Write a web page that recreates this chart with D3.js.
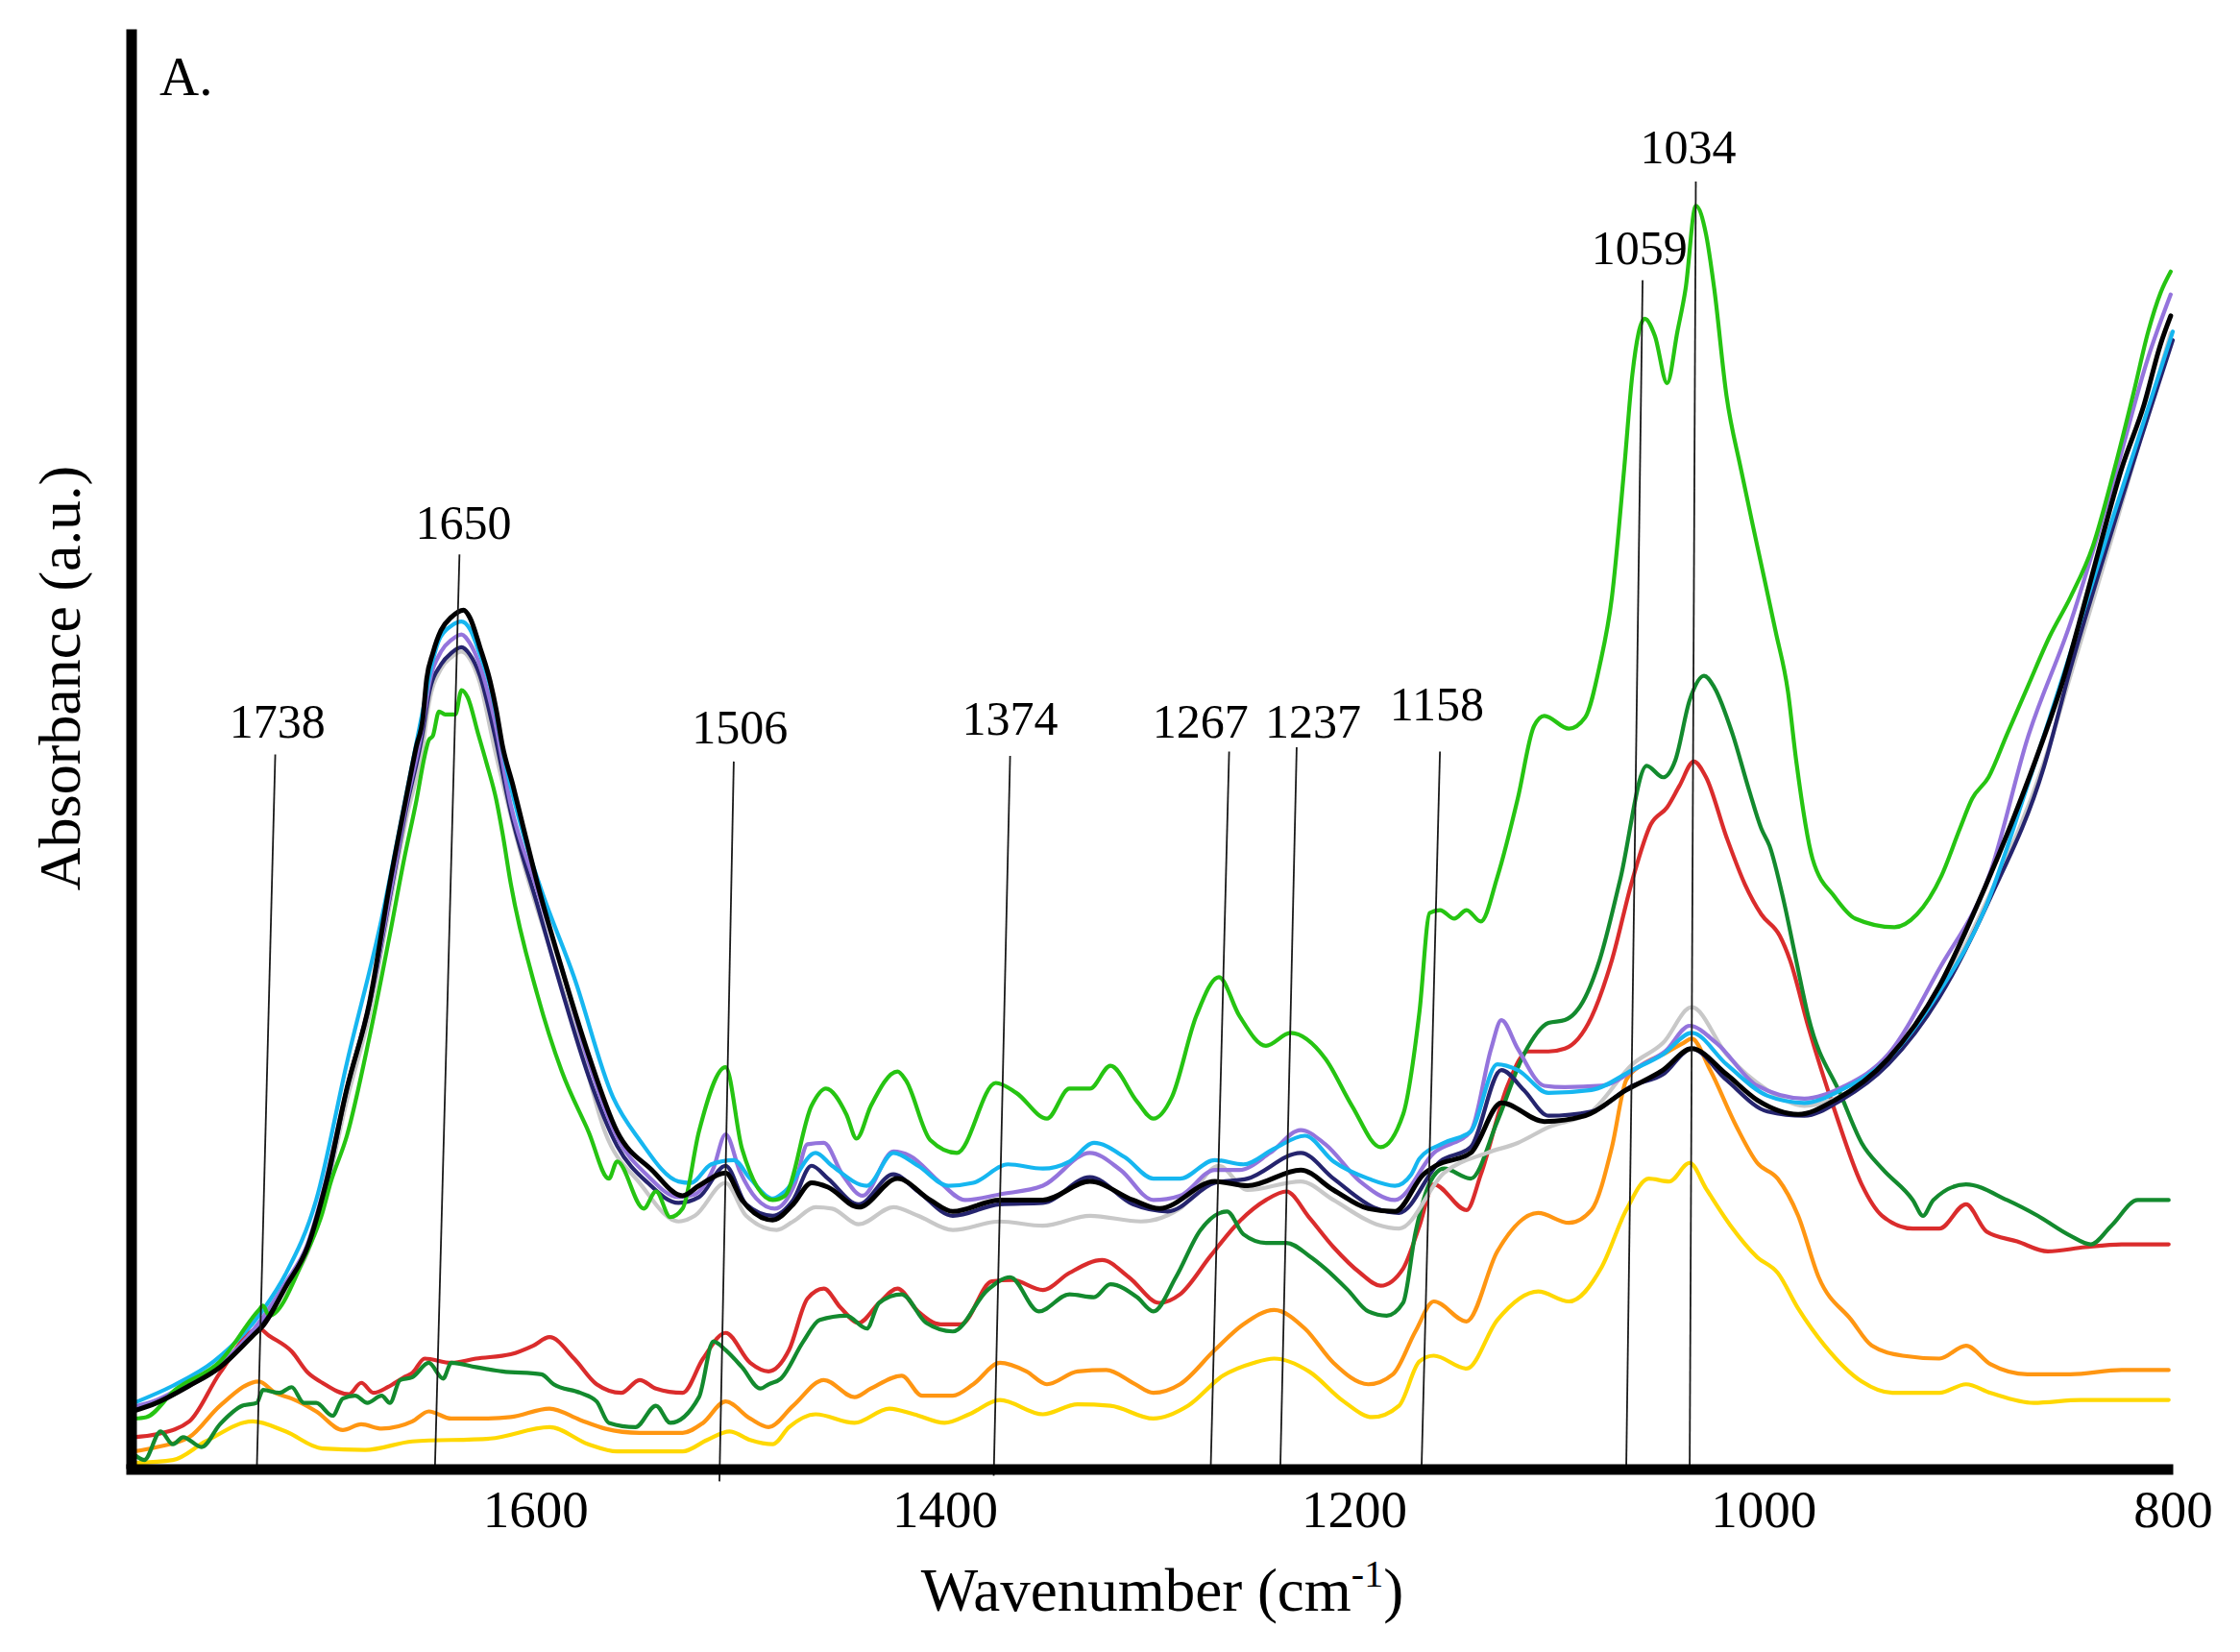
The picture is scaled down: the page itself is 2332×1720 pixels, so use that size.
<!DOCTYPE html>
<html>
<head>
<meta charset="utf-8">
<script src="https://cdn.jsdelivr.net/npm/d3@7"></script>
<style>
  body { margin: 0; background: #fff; }
  svg { display: block; }
  text { font-family: "Liberation Serif", "Times New Roman", serif; fill: #000; }
</style>
</head>
<body>
<div id="chart"></div>
<script>
'use strict';

// Spectra: [wavenumber (cm-1), absorbance (a.u.)]
var yellowSpectrum = [[1796,0.004],[1777,0.006],[1761,0.019],[1738,0.033],[1722,0.026],[1704,0.014],[1683,0.013],[1660,0.019],[1622,0.021],[1593,0.029],[1574,0.017],[1560,0.012],[1528,0.012],[1516,0.020],[1505,0.026],[1495,0.020],[1484,0.017],[1476,0.029],[1463,0.038],[1444,0.032],[1427,0.042],[1415,0.038],[1400,0.032],[1388,0.038],[1373,0.048],[1352,0.038],[1335,0.045],[1319,0.044],[1298,0.035],[1281,0.044],[1264,0.065],[1249,0.074],[1239,0.077],[1222,0.068],[1205,0.047],[1191,0.036],[1178,0.044],[1168,0.075],[1161,0.079],[1145,0.070],[1130,0.104],[1110,0.124],[1095,0.117],[1079,0.141],[1067,0.181],[1056,0.203],[1046,0.201],[1036,0.214],[1028,0.196],[1016,0.170],[1003,0.148],[993,0.137],[983,0.112],[970,0.086],[952,0.061],[937,0.053],[914,0.053],[901,0.059],[889,0.053],[868,0.046],[845,0.048],[802,0.048]];

var orangeSpectrum = [[1796,0.012],[1785,0.015],[1769,0.022],[1754,0.044],[1735,0.061],[1727,0.053],[1719,0.049],[1707,0.040],[1694,0.027],[1685,0.031],[1675,0.028],[1660,0.033],[1652,0.040],[1641,0.035],[1627,0.035],[1612,0.036],[1593,0.042],[1578,0.034],[1566,0.028],[1549,0.025],[1528,0.025],[1518,0.032],[1507,0.047],[1495,0.035],[1486,0.029],[1474,0.044],[1459,0.062],[1444,0.050],[1436,0.056],[1421,0.065],[1411,0.051],[1396,0.051],[1386,0.059],[1373,0.074],[1360,0.068],[1350,0.059],[1335,0.068],[1321,0.069],[1308,0.060],[1298,0.053],[1285,0.059],[1268,0.083],[1254,0.101],[1239,0.111],[1224,0.098],[1210,0.074],[1193,0.059],[1181,0.066],[1170,0.096],[1161,0.117],[1145,0.103],[1130,0.152],[1110,0.179],[1095,0.172],[1084,0.181],[1074,0.225],[1067,0.272],[1059,0.283],[1049,0.290],[1039,0.298],[1035,0.301],[1026,0.279],[1013,0.239],[1003,0.214],[993,0.203],[983,0.177],[973,0.134],[957,0.104],[947,0.086],[932,0.079],[914,0.077],[901,0.086],[889,0.073],[871,0.066],[850,0.066],[825,0.069],[802,0.069]];

var redSpectrum = [[1796,0.022],[1785,0.024],[1769,0.033],[1754,0.067],[1735,0.098],[1730,0.093],[1719,0.082],[1711,0.067],[1704,0.060],[1691,0.052],[1685,0.060],[1679,0.053],[1672,0.057],[1664,0.064],[1660,0.067],[1654,0.077],[1641,0.074],[1629,0.077],[1612,0.080],[1601,0.086],[1593,0.092],[1581,0.077],[1570,0.059],[1558,0.053],[1549,0.062],[1541,0.056],[1528,0.053],[1518,0.077],[1507,0.095],[1495,0.074],[1486,0.068],[1476,0.083],[1467,0.119],[1459,0.126],[1451,0.113],[1442,0.102],[1432,0.116],[1423,0.126],[1413,0.110],[1402,0.101],[1392,0.101],[1377,0.131],[1367,0.132],[1352,0.125],[1339,0.137],[1323,0.146],[1310,0.134],[1295,0.116],[1285,0.122],[1270,0.149],[1256,0.173],[1243,0.188],[1233,0.194],[1222,0.176],[1210,0.155],[1197,0.137],[1187,0.128],[1176,0.140],[1168,0.170],[1161,0.199],[1145,0.181],[1138,0.206],[1125,0.268],[1115,0.292],[1105,0.292],[1097,0.294],[1084,0.316],[1074,0.356],[1064,0.412],[1055,0.451],[1047,0.463],[1041,0.478],[1034,0.495],[1028,0.484],[1018,0.442],[1009,0.409],[1001,0.388],[992,0.373],[987,0.356],[978,0.309],[965,0.250],[952,0.199],[942,0.177],[927,0.168],[914,0.168],[901,0.185],[891,0.166],[876,0.159],[861,0.152],[843,0.155],[825,0.157],[802,0.157]];

var darkGreenSpectrum = [[1796,0.010],[1791,0.006],[1783,0.026],[1777,0.017],[1772,0.022],[1763,0.015],[1754,0.031],[1743,0.044],[1736,0.046],[1733,0.055],[1725,0.053],[1719,0.057],[1713,0.046],[1707,0.046],[1699,0.037],[1694,0.049],[1688,0.051],[1682,0.046],[1675,0.051],[1671,0.046],[1666,0.062],[1660,0.064],[1652,0.074],[1645,0.063],[1641,0.074],[1629,0.071],[1616,0.068],[1597,0.066],[1591,0.059],[1578,0.053],[1570,0.047],[1564,0.032],[1551,0.029],[1541,0.044],[1534,0.032],[1520,0.050],[1513,0.089],[1507,0.083],[1499,0.071],[1490,0.056],[1486,0.059],[1480,0.063],[1469,0.089],[1461,0.104],[1448,0.107],[1438,0.098],[1432,0.116],[1421,0.122],[1409,0.102],[1396,0.096],[1379,0.125],[1368,0.134],[1354,0.110],[1339,0.122],[1327,0.120],[1319,0.129],[1306,0.120],[1298,0.110],[1287,0.134],[1275,0.167],[1262,0.180],[1254,0.164],[1243,0.158],[1233,0.158],[1222,0.149],[1214,0.140],[1203,0.125],[1193,0.110],[1184,0.107],[1176,0.116],[1170,0.165],[1163,0.200],[1156,0.210],[1143,0.203],[1130,0.243],[1117,0.290],[1105,0.312],[1097,0.314],[1087,0.330],[1080,0.356],[1070,0.412],[1057,0.492],[1049,0.484],[1043,0.496],[1036,0.538],[1029,0.555],[1024,0.547],[1015,0.514],[1007,0.475],[1001,0.448],[997,0.436],[990,0.397],[984,0.356],[978,0.316],[962,0.261],[952,0.228],[942,0.210],[927,0.188],[922,0.177],[917,0.188],[901,0.199],[881,0.188],[866,0.177],[850,0.163],[840,0.157],[830,0.170],[817,0.188],[802,0.188]];

var graySpectrum = [[1797,0.041],[1785,0.046],[1769,0.058],[1754,0.071],[1738,0.093],[1722,0.125],[1711,0.152],[1702,0.195],[1692,0.258],[1681,0.318],[1671,0.395],[1663,0.455],[1655,0.505],[1652,0.535],[1646,0.560],[1641,0.568],[1636,0.572],[1632,0.567],[1627,0.550],[1620,0.505],[1606,0.425],[1591,0.356],[1578,0.296],[1566,0.236],[1549,0.200],[1530,0.173],[1522,0.177],[1507,0.200],[1497,0.177],[1482,0.167],[1474,0.173],[1463,0.183],[1455,0.182],[1442,0.171],[1425,0.183],[1413,0.177],[1396,0.167],[1373,0.173],[1352,0.170],[1329,0.177],[1304,0.173],[1285,0.182],[1266,0.212],[1252,0.195],[1226,0.201],[1210,0.188],[1189,0.171],[1178,0.168],[1156,0.207],[1135,0.221],[1120,0.228],[1105,0.239],[1084,0.250],[1064,0.283],[1049,0.298],[1035,0.323],[1018,0.290],[998,0.265],[980,0.254],[962,0.261],[939,0.287],[914,0.334],[889,0.403],[863,0.494],[850,0.555],[829,0.655],[801,0.795]];

var navySpectrum = [[1797,0.041],[1785,0.046],[1769,0.058],[1754,0.071],[1738,0.094],[1722,0.128],[1711,0.155],[1702,0.198],[1692,0.266],[1681,0.325],[1671,0.400],[1663,0.462],[1655,0.515],[1652,0.542],[1646,0.563],[1641,0.571],[1636,0.575],[1632,0.570],[1627,0.555],[1620,0.515],[1612,0.460],[1599,0.395],[1587,0.335],[1574,0.275],[1560,0.226],[1545,0.200],[1530,0.186],[1520,0.190],[1507,0.212],[1497,0.185],[1484,0.177],[1474,0.188],[1465,0.212],[1457,0.203],[1442,0.185],[1425,0.206],[1413,0.194],[1396,0.177],[1373,0.185],[1352,0.186],[1329,0.204],[1308,0.185],[1291,0.180],[1268,0.200],[1252,0.203],[1226,0.221],[1210,0.203],[1189,0.182],[1178,0.179],[1158,0.215],[1143,0.225],[1128,0.279],[1117,0.265],[1105,0.247],[1084,0.250],[1064,0.268],[1049,0.276],[1035,0.294],[1018,0.272],[998,0.250],[980,0.247],[962,0.258],[939,0.283],[914,0.330],[889,0.400],[863,0.491],[850,0.560],[829,0.660],[800,0.790]];

var purpleSpectrum = [[1797,0.043],[1785,0.048],[1769,0.060],[1754,0.073],[1735,0.102],[1722,0.130],[1711,0.158],[1704,0.192],[1692,0.266],[1681,0.326],[1671,0.402],[1663,0.465],[1655,0.520],[1652,0.548],[1646,0.572],[1641,0.580],[1636,0.584],[1632,0.578],[1627,0.562],[1620,0.525],[1612,0.465],[1599,0.405],[1586,0.345],[1574,0.285],[1560,0.232],[1545,0.205],[1530,0.190],[1522,0.192],[1513,0.210],[1507,0.234],[1500,0.208],[1492,0.189],[1483,0.182],[1473,0.200],[1467,0.227],[1459,0.228],[1450,0.206],[1440,0.191],[1425,0.222],[1417,0.219],[1402,0.200],[1390,0.188],[1373,0.192],[1352,0.198],[1329,0.221],[1314,0.209],[1298,0.188],[1285,0.191],[1268,0.209],[1256,0.209],[1241,0.221],[1226,0.237],[1214,0.227],[1197,0.201],[1180,0.188],[1161,0.221],[1143,0.236],[1133,0.294],[1128,0.314],[1120,0.294],[1107,0.268],[1097,0.267],[1079,0.268],[1059,0.283],[1048,0.292],[1036,0.310],[1023,0.298],[1003,0.268],[980,0.259],[960,0.268],[939,0.290],[914,0.350],[889,0.418],[871,0.511],[850,0.592],[829,0.691],[812,0.778],[801,0.822]];

var cyanSpectrum = [[1796,0.046],[1777,0.058],[1757,0.075],[1733,0.111],[1722,0.136],[1707,0.188],[1692,0.284],[1675,0.385],[1663,0.472],[1655,0.530],[1650,0.566],[1647,0.580],[1641,0.590],[1636,0.593],[1632,0.588],[1627,0.570],[1622,0.548],[1614,0.490],[1606,0.445],[1597,0.405],[1581,0.344],[1562,0.260],[1549,0.230],[1530,0.201],[1524,0.200],[1514,0.213],[1503,0.216],[1495,0.203],[1484,0.189],[1478,0.194],[1463,0.221],[1455,0.212],[1438,0.198],[1425,0.221],[1413,0.212],[1398,0.198],[1386,0.200],[1369,0.213],[1352,0.210],[1339,0.215],[1327,0.228],[1312,0.218],[1298,0.203],[1285,0.203],[1268,0.216],[1254,0.213],[1239,0.224],[1224,0.233],[1210,0.215],[1193,0.203],[1180,0.198],[1172,0.206],[1168,0.217],[1156,0.228],[1143,0.236],[1130,0.283],[1120,0.279],[1105,0.263],[1084,0.265],[1064,0.279],[1049,0.290],[1035,0.305],[1018,0.283],[998,0.261],[980,0.256],[962,0.265],[939,0.287],[914,0.334],[892,0.391],[871,0.478],[850,0.571],[829,0.667],[800,0.796]];

var greenSpectrum = [[1796,0.035],[1790,0.036],[1776,0.055],[1754,0.075],[1735,0.111],[1733,0.114],[1730,0.107],[1713,0.147],[1704,0.179],[1700,0.200],[1692,0.233],[1681,0.302],[1671,0.374],[1664,0.427],[1658,0.468],[1654,0.499],[1652,0.510],[1650,0.513],[1647,0.530],[1644,0.528],[1639,0.528],[1636,0.545],[1633,0.540],[1628,0.515],[1624,0.495],[1619,0.468],[1616,0.445],[1612,0.410],[1599,0.332],[1587,0.278],[1574,0.236],[1564,0.203],[1560,0.215],[1547,0.182],[1541,0.194],[1534,0.176],[1528,0.182],[1520,0.236],[1507,0.281],[1499,0.224],[1484,0.188],[1478,0.191],[1465,0.254],[1458,0.266],[1448,0.248],[1443,0.231],[1436,0.254],[1423,0.278],[1419,0.272],[1407,0.230],[1394,0.221],[1375,0.270],[1365,0.263],[1350,0.245],[1339,0.266],[1329,0.266],[1319,0.282],[1306,0.257],[1298,0.245],[1289,0.260],[1277,0.317],[1266,0.344],[1256,0.317],[1243,0.296],[1231,0.305],[1214,0.287],[1201,0.254],[1187,0.225],[1176,0.248],[1168,0.320],[1163,0.389],[1158,0.391],[1151,0.385],[1145,0.391],[1138,0.383],[1130,0.414],[1120,0.469],[1112,0.520],[1107,0.527],[1095,0.518],[1087,0.526],[1080,0.562],[1074,0.610],[1068,0.700],[1064,0.766],[1058,0.805],[1053,0.793],[1047,0.760],[1042,0.796],[1038,0.826],[1033,0.884],[1028,0.864],[1024,0.826],[1018,0.751],[1011,0.700],[1003,0.646],[994,0.586],[988,0.544],[984,0.496],[976,0.427],[965,0.400],[955,0.385],[936,0.379],[925,0.388],[913,0.415],[904,0.448],[898,0.469],[890,0.484],[881,0.514],[871,0.547],[860,0.583],[850,0.610],[839,0.646],[829,0.697],[819,0.754],[812,0.796],[806,0.823],[801,0.838]];

var blackSpectrum = [[1797,0.040],[1785,0.046],[1769,0.058],[1754,0.071],[1738,0.093],[1733,0.100],[1722,0.127],[1711,0.156],[1702,0.201],[1692,0.266],[1681,0.326],[1671,0.410],[1663,0.470],[1658,0.506],[1655,0.524],[1653,0.553],[1650,0.571],[1646,0.587],[1641,0.596],[1635,0.601],[1632,0.596],[1627,0.575],[1622,0.551],[1619,0.531],[1616,0.506],[1611,0.479],[1606,0.450],[1599,0.410],[1587,0.350],[1574,0.290],[1560,0.236],[1543,0.209],[1528,0.191],[1520,0.198],[1507,0.207],[1499,0.188],[1484,0.174],[1474,0.185],[1465,0.200],[1457,0.197],[1442,0.183],[1423,0.203],[1407,0.188],[1396,0.180],[1373,0.188],[1352,0.188],[1329,0.201],[1308,0.188],[1295,0.182],[1268,0.201],[1252,0.198],[1226,0.209],[1210,0.195],[1193,0.182],[1180,0.180],[1166,0.206],[1160,0.212],[1143,0.221],[1128,0.256],[1107,0.243],[1087,0.247],[1067,0.265],[1049,0.279],[1035,0.294],[1018,0.276],[1003,0.258],[983,0.248],[965,0.258],[939,0.287],[914,0.338],[892,0.406],[879,0.451],[867,0.496],[854,0.550],[844,0.601],[835,0.649],[825,0.700],[814,0.745],[806,0.787],[801,0.807]];

// drawing order, bottom to top
var seriesData = [yellowSpectrum, orangeSpectrum, redSpectrum, darkGreenSpectrum, graySpectrum,
                  navySpectrum, purpleSpectrum, cyanSpectrum, greenSpectrum, blackSpectrum];
var seriesColors = ["#ffd800", "#ff9612", "#da2c2c", "#138a2e", "#c8c8c8",
                    "#25246e", "#9474dc", "#16b6f0", "#26c412", "#000000"];

// peak annotations
var peakNames = ["1738", "1650", "1506", "1374", "1267", "1237", "1158", "1059", "1034"];
var peakLineBottom = [1736, 1649, 1510, 1376, 1270, 1236, 1167, 1067, 1036];
var peakLineTop = [1727, 1637, 1503, 1368, 1261, 1228, 1158, 1059, 1033];
var peakLineTopLevel = [0.500, 0.640, 0.495, 0.499, 0.502, 0.505, 0.502, 0.832, 0.901];
var peakLineBottomLevel = [0, 0, -0.009, -0.005, 0, 0, 0, 0, 0];
var peakLabelPos = [1726, 1635, 1500, 1368, 1275, 1220, 1159.5, 1060.5, 1036.7];
var peakLabelLevel = [0.512, 0.651, 0.508, 0.514, 0.512, 0.512, 0.524, 0.843, 0.914];

var xTicks = [1600, 1400, 1200, 1000, 800];

(function() {
    var width = 2332, height = 1720;

    var svg = d3.select("#chart")
        .append("svg")
            .attr("width", width)
            .attr("height", height)
            .style("background", "#fff");

    var x = d3.scaleLinear().domain([1800, 800]).range([131, 2262]);
    var y = d3.scaleLinear().domain([0, 1.008]).range([1529, 30]);

    var line = d3.line()
        .x(function(d) { return x(d[0]); })
        .y(function(d) { return y(d[1]); })
        .curve(d3.curveMonotoneX);

    // spectra
    svg.append("g")
        .selectAll("path")
        .data(seriesData)
        .enter()
        .append("path")
            .attr("d", line)
            .attr("fill", "none")
            .attr("stroke", function(d, i) { return seriesColors[i]; })
            .attr("stroke-width", function(d, i) { return i === seriesData.length - 1 ? 5 : 4.2; })
            .attr("stroke-linejoin", "round")
            .attr("stroke-linecap", "round");

    // leader lines for the peaks
    svg.append("g")
        .selectAll("line")
        .data(peakNames)
        .enter()
        .append("line")
            .attr("x1", function(d, i) { return x(peakLineBottom[i]); })
            .attr("y1", function(d, i) { return y(peakLineBottomLevel[i]); })
            .attr("x2", function(d, i) { return x(peakLineTop[i]); })
            .attr("y2", function(d, i) { return y(peakLineTopLevel[i]); })
            .attr("stroke", "#1a1a1a")
            .attr("stroke-width", 1.8);

    svg.append("g")
        .selectAll("text")
        .data(peakNames)
        .enter()
        .append("text")
            .attr("x", function(d, i) { return x(peakLabelPos[i]); })
            .attr("y", function(d, i) { return y(peakLabelLevel[i]); })
            .attr("text-anchor", "middle")
            .style("font-size", "50px")
            .text(function(d) { return d; });

    // x axis: thick bar, labels only
    var xAxis = svg.append("g")
        .attr("transform", "translate(0,1529.5)")
        .call(d3.axisBottom(x).tickValues(xTicks).tickSize(0).tickSizeOuter(0).tickFormat(d3.format("d")));
    xAxis.select(".domain").attr("stroke", "#000").attr("stroke-width", 11);
    xAxis.selectAll("text")
        .attr("y", 60)
        .attr("dy", null)
        .style("font-family", "'Liberation Serif', serif")
        .style("font-size", "55px");

    // y axis: thick bar, no ticks
    var yAxis = svg.append("g")
        .attr("transform", "translate(136.5,0)")
        .call(d3.axisLeft(y).tickValues([]).tickSize(0).tickSizeOuter(0));
    yAxis.select(".domain").attr("stroke", "#000").attr("stroke-width", 11);

    // titles
    var xTitle = svg.append("text")
        .attr("x", 1210)
        .attr("y", 1677)
        .attr("text-anchor", "middle")
        .style("font-size", "63px");
    xTitle.append("tspan").text("Wavenumber (cm");
    xTitle.append("tspan").attr("dy", -25).style("font-size", "40px").text("-1");
    xTitle.append("tspan").attr("dy", 25).text(")");

    svg.append("text")
        .attr("transform", "translate(83,706) rotate(-90)")
        .attr("text-anchor", "middle")
        .style("font-size", "62px")
        .text("Absorbance (a.u.)");

    svg.append("text")
        .attr("x", 166)
        .attr("y", 99)
        .style("font-size", "57px")
        .text("A.");
})();
</script>
</body>
</html>
